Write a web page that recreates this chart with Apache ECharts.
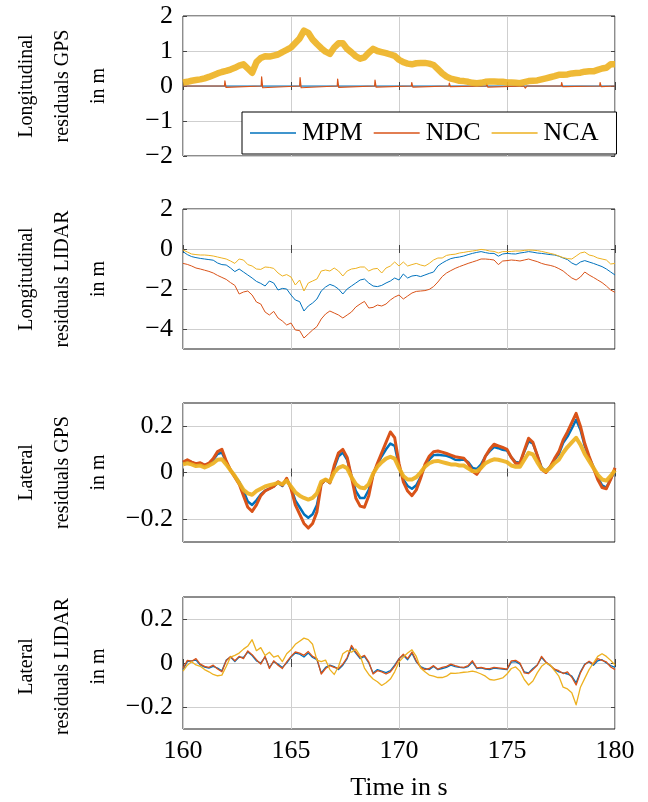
<!DOCTYPE html>
<html><head><meta charset="utf-8">
<script src="https://cdn.jsdelivr.net/npm/echarts@6/dist/echarts.min.js"></script>
<style>html,body{margin:0;padding:0;background:#fff}#c{width:648px;height:802px}</style>
</head><body><div id="c"></div><script>
// ---- time grid (s) ----
const time = [160,160.2,160.4,160.6,160.8,161,161.2,161.4,161.6,161.8,162,162.2,162.4,162.6,162.8,163,163.2,163.4,163.6,163.8,164,164.2,164.4,164.6,164.8,165,165.2,165.4,165.6,165.8,166,166.2,166.4,166.6,166.8,167,167.2,167.4,167.6,167.8,168,168.2,168.4,168.6,168.8,169,169.2,169.4,169.6,169.8,170,170.2,170.4,170.6,170.8,171,171.2,171.4,171.6,171.8,172,172.2,172.4,172.6,172.8,173,173.2,173.4,173.6,173.8,174,174.2,174.4,174.6,174.8,175,175.2,175.4,175.6,175.8,176,176.2,176.4,176.6,176.8,177,177.2,177.4,177.6,177.8,178,178.2,178.4,178.6,178.8,179,179.2,179.4,179.6,179.8,180];
const seriesNames = ['MPM','NDC','NCA'];
const xTicks = [160,165,170,175,180];

// ---- Panel 1: Longitudinal residuals GPS ----
const gpsLonMPM_t = [160,180];
const gpsLonMPM_v = [0,0];
const gpsLonNDC_t = [160,161.92,161.94,161.99,162.06,163.62,163.64,163.69,163.76,165.40,165.42,165.47,165.54,167.14,167.16,167.21,167.28,168.87,168.89,168.94,169.01,170.57,170.59,170.64,170.71,172.31,172.33,172.38,172.45,174.04,174.06,174.11,174.18,175.78,175.80,175.85,175.92,177.51,177.53,177.58,177.65,179.29,179.31,179.36,179.43,180];
const gpsLonNDC_v = [0,0,0.15,-0.04,0,0,0.26,-0.05,0,0,0.24,-0.05,0,0,0.2,-0.04,0,0,0.17,-0.03,0,0,0.1,-0.03,0,0,0.08,-0.02,0,0,0.06,-0.03,0,0,0.04,-0.06,0,0,0.1,-0.02,0,0,0.1,-0.02,0,0];
const gpsLonNCA = [0.1,0.12,0.15,0.17,0.19,0.22,0.26,0.31,0.36,0.4,0.43,0.47,0.52,0.58,0.62,0.5,0.38,0.68,0.8,0.85,0.84,0.87,0.9,0.97,1.03,1.1,1.23,1.36,1.58,1.52,1.33,1.2,1.08,0.98,0.92,1.1,1.22,1.22,1.06,0.96,0.85,0.78,0.82,0.95,1.06,1.0,0.97,0.94,0.9,0.86,0.75,0.68,0.64,0.62,0.65,0.66,0.66,0.64,0.6,0.48,0.36,0.27,0.21,0.18,0.15,0.14,0.12,0.09,0.08,0.09,0.12,0.13,0.13,0.12,0.12,0.1,0.1,0.09,0.08,0.11,0.14,0.15,0.16,0.19,0.22,0.25,0.28,0.32,0.32,0.33,0.36,0.37,0.38,0.41,0.42,0.42,0.46,0.5,0.52,0.62,0.62];

// ---- Panel 2: Longitudinal residuals LIDAR ----
const lidLonMPM = [-0.13,-0.28,-0.38,-0.43,-0.47,-0.5,-0.53,-0.56,-0.7,-0.78,-0.8,-0.95,-1.13,-1.0,-1.15,-1.3,-1.45,-1.62,-1.72,-1.85,-1.6,-1.7,-2.05,-1.97,-2.0,-2.3,-2.55,-2.63,-3.1,-2.85,-2.7,-2.5,-2.1,-1.9,-1.77,-1.85,-2.0,-2.25,-2.0,-1.85,-1.7,-1.55,-1.5,-1.7,-1.85,-1.88,-1.82,-1.7,-1.6,-1.45,-1.55,-1.25,-1.45,-1.35,-1.32,-1.38,-1.3,-1.22,-1.15,-0.85,-0.7,-0.58,-0.48,-0.43,-0.4,-0.35,-0.28,-0.22,-0.17,-0.13,-0.18,-0.22,-0.22,-0.36,-0.25,-0.22,-0.24,-0.25,-0.2,-0.17,-0.13,-0.16,-0.2,-0.22,-0.25,-0.28,-0.3,-0.36,-0.45,-0.53,-0.7,-0.8,-0.65,-0.58,-0.65,-0.72,-0.8,-0.88,-1.0,-1.15,-1.3];
const lidLonNDC = [-0.72,-0.77,-0.85,-0.95,-1.0,-1.06,-1.12,-1.2,-1.32,-1.42,-1.52,-1.68,-1.82,-2.25,-2.15,-2.1,-2.3,-2.65,-2.75,-3.15,-3.3,-3.12,-3.45,-3.6,-3.8,-3.7,-4.05,-4.08,-4.45,-4.25,-4.05,-3.88,-3.5,-3.25,-3.1,-3.2,-3.3,-3.45,-3.3,-3.15,-2.9,-2.75,-2.62,-2.95,-2.92,-2.8,-2.85,-2.75,-2.55,-2.4,-2.3,-2.5,-2.35,-2.2,-2.12,-2.1,-2.08,-2.02,-1.88,-1.65,-1.38,-1.2,-1.08,-0.97,-0.88,-0.8,-0.72,-0.65,-0.58,-0.5,-0.5,-0.52,-0.55,-0.78,-0.6,-0.58,-0.55,-0.57,-0.6,-0.55,-0.5,-0.57,-0.63,-0.72,-0.78,-0.82,-0.88,-0.98,-1.1,-1.28,-1.45,-1.55,-1.4,-1.15,-1.3,-1.42,-1.55,-1.68,-1.85,-2.05,-2.17];
const lidLonNCA = [-0.05,-0.15,-0.25,-0.28,-0.3,-0.3,-0.32,-0.35,-0.4,-0.45,-0.5,-0.6,-0.72,-0.5,-0.55,-0.78,-0.85,-1.0,-1.02,-0.9,-0.92,-0.97,-1.2,-1.35,-1.28,-1.4,-1.8,-1.55,-2.1,-1.7,-1.6,-1.5,-1.1,-1.05,-1.1,-0.95,-1.1,-1.35,-1.1,-1.0,-0.97,-0.9,-0.9,-1.1,-1.0,-0.97,-1.2,-0.95,-0.85,-0.65,-0.85,-0.65,-0.85,-0.78,-0.72,-0.8,-0.85,-0.72,-0.55,-0.45,-0.45,-0.32,-0.28,-0.26,-0.2,-0.17,-0.13,-0.1,-0.07,-0.02,-0.05,-0.1,-0.12,-0.2,-0.13,-0.13,-0.12,-0.1,-0.1,-0.07,-0.05,-0.06,-0.08,-0.12,-0.17,-0.22,-0.27,-0.35,-0.43,-0.48,-0.5,-0.35,-0.2,-0.15,-0.3,-0.35,-0.45,-0.5,-0.55,-0.75,-0.72];

// ---- Panel 3: Lateral residuals GPS ----
const gpsLatMPM = [0.042,0.052,0.045,0.035,0.04,0.032,0.038,0.055,0.08,0.086,0.045,0.01,-0.015,-0.04,-0.08,-0.125,-0.14,-0.12,-0.095,-0.078,-0.07,-0.06,-0.045,-0.058,-0.03,-0.065,-0.12,-0.15,-0.18,-0.195,-0.18,-0.14,-0.05,-0.032,-0.045,0.02,0.07,0.086,0.055,-0.015,-0.08,-0.11,-0.11,-0.075,-0.01,0.035,0.07,0.1,0.125,0.115,0.028,-0.03,-0.058,-0.07,-0.055,-0.02,0.03,0.055,0.075,0.077,0.074,0.072,0.065,0.055,0.054,0.056,0.045,0.02,0.015,0.035,0.07,0.092,0.11,0.105,0.098,0.095,0.065,0.045,0.042,0.09,0.135,0.125,0.075,0.022,0.006,0.025,0.055,0.08,0.128,0.155,0.19,0.228,0.185,0.115,0.065,0.025,-0.02,-0.055,-0.065,-0.028,0.006];
const gpsLatNDC = [0.045,0.055,0.045,0.038,0.042,0.032,0.04,0.06,0.09,0.1,0.05,0.01,-0.02,-0.05,-0.1,-0.15,-0.168,-0.14,-0.1,-0.08,-0.07,-0.06,-0.04,-0.055,-0.025,-0.07,-0.14,-0.18,-0.22,-0.24,-0.22,-0.17,-0.05,-0.03,-0.045,0.03,0.085,0.1,0.065,-0.02,-0.11,-0.145,-0.15,-0.1,-0.01,0.04,0.085,0.13,0.175,0.15,0.04,-0.04,-0.08,-0.1,-0.075,-0.025,0.035,0.07,0.09,0.093,0.088,0.082,0.075,0.068,0.065,0.062,0.04,0.005,-0.008,0.02,0.07,0.1,0.122,0.115,0.108,0.1,0.065,0.04,0.04,0.095,0.148,0.13,0.075,0.015,0.0,0.025,0.06,0.09,0.14,0.175,0.215,0.255,0.2,0.125,0.07,0.02,-0.03,-0.065,-0.07,-0.03,0.02];
const gpsLatNCA = [0.035,0.04,0.035,0.028,0.03,0.022,0.03,0.04,0.055,0.057,0.035,0.01,-0.015,-0.045,-0.075,-0.09,-0.096,-0.08,-0.07,-0.06,-0.055,-0.05,-0.045,-0.05,-0.035,-0.06,-0.085,-0.1,-0.11,-0.117,-0.11,-0.09,-0.04,-0.03,-0.04,0.0,0.02,0.028,0.018,-0.02,-0.05,-0.065,-0.068,-0.05,-0.005,0.025,0.045,0.06,0.068,0.06,0.02,-0.015,-0.03,-0.03,-0.02,0.0,0.025,0.04,0.048,0.05,0.045,0.04,0.035,0.035,0.03,0.03,0.018,0.006,0.005,0.02,0.04,0.05,0.057,0.055,0.05,0.045,0.03,0.025,0.025,0.055,0.085,0.078,0.045,0.015,0.006,0.02,0.04,0.055,0.085,0.11,0.13,0.15,0.12,0.08,0.05,0.02,-0.01,-0.03,-0.035,-0.015,0.01];

// ---- Panel 4: Lateral residuals LIDAR ----
const lidLatMPM = [-0.03,0.006,0.01,0.013,-0.009,-0.019,-0.023,-0.015,-0.023,-0.035,0.013,0.027,0.006,0.027,0.025,0.05,0.034,0.01,0.0,0.027,-0.02,0.006,-0.005,-0.02,0.0,0.027,0.045,0.04,0.027,0.045,0.025,0.015,-0.045,-0.02,-0.01,-0.016,-0.03,-0.01,0.02,0.07,0.045,0.02,0.03,0.0,-0.045,-0.03,-0.037,-0.044,-0.035,-0.01,0.02,0.035,0.015,0.045,0.005,-0.016,-0.025,-0.03,-0.016,-0.03,-0.025,-0.02,-0.01,-0.016,-0.02,-0.022,-0.016,0.004,-0.025,-0.022,-0.028,-0.03,-0.023,-0.026,-0.028,-0.03,0.004,0.006,-0.005,-0.04,-0.045,-0.025,-0.009,0.025,0.003,-0.012,-0.03,-0.04,-0.045,-0.05,-0.06,-0.09,-0.04,-0.005,0.005,-0.01,0.01,0.015,0.0,-0.012,-0.02];
const lidLatNDC = [-0.025,0.012,0.008,0.02,-0.005,-0.015,-0.02,-0.01,-0.027,-0.04,0.01,0.03,0.01,0.03,0.02,0.055,0.038,0.015,-0.005,0.03,-0.025,0.01,-0.01,-0.025,0.005,0.03,0.05,0.045,0.035,0.052,0.03,0.02,-0.05,-0.025,-0.012,-0.02,-0.025,-0.005,0.025,0.08,0.05,0.025,0.035,0.005,-0.05,-0.035,-0.04,-0.05,-0.04,-0.015,0.018,0.04,0.02,0.05,0.01,-0.02,-0.03,-0.025,-0.012,-0.028,-0.02,-0.015,-0.005,-0.012,-0.018,-0.02,-0.012,0.01,-0.022,-0.02,-0.025,-0.026,-0.02,-0.022,-0.025,-0.028,0.01,0.012,0.0,-0.045,-0.048,-0.03,-0.01,0.03,0.005,-0.01,-0.028,-0.035,-0.048,-0.04,-0.065,-0.1,-0.045,-0.008,0.008,-0.005,0.02,0.012,0.005,-0.018,-0.03];
const lidLatNCA = [-0.037,-0.01,0.006,-0.009,-0.015,-0.03,-0.04,-0.052,-0.058,-0.055,-0.016,0.027,0.035,0.045,0.063,0.077,0.106,0.056,0.07,0.034,0.049,0.027,0.034,0.006,0.042,0.06,0.085,0.099,0.113,0.106,0.085,0.013,0.006,0.013,-0.03,-0.052,-0.016,0.042,0.056,0.049,0.063,0.034,-0.023,-0.052,-0.073,-0.085,-0.102,-0.09,-0.073,-0.04,0.005,0.027,0.045,0.06,0.03,-0.023,-0.04,-0.055,-0.06,-0.066,-0.066,-0.06,-0.046,-0.047,-0.045,-0.042,-0.04,-0.037,-0.042,-0.05,-0.06,-0.075,-0.078,-0.073,-0.068,-0.05,-0.025,-0.018,-0.037,-0.075,-0.1,-0.082,-0.045,-0.015,0.0,-0.01,-0.035,-0.06,-0.11,-0.118,-0.135,-0.19,-0.11,-0.07,-0.03,0.0,0.03,0.042,0.03,0.012,-0.009];

// ---- axis ticks ----
const yTicks = [[-2,-1,0,1,2],[-4,-2,0,2],[-0.2,0,0.2],[-0.2,0,0.2]];
const yRanges = [[-2,2],[-5,2],[-0.3,0.3],[-0.3,0.3]];
const yNames = [
  ['Longitudinal','residuals GPS','in m'],
  ['Longitudinal','residuals LIDAR','in m'],
  ['Lateral','residuals GPS','in m'],
  ['Lateral','residuals LIDAR','in m']
];
const xName = 'Time in s';

const colors = {MPM:'#0072BD', NDC:'#D95319', NCA:'#EDB120'};
const FONT = '"Liberation Serif", "DejaVu Serif", serif';
const TICK_FS = 26;
const zip = (t, v) => t.map((x, i) => [x, v[i]]);
const fmt = v => (v < 0 ? '\u2212' + String(-v) : String(v));

const grids = [
  {left:183, top:16, width:432, height:140},
  {left:183, top:209, width:432, height:140},
  {left:183, top:403, width:432, height:139},
  {left:183, top:597, width:432, height:139}
].map(g => Object.assign(g, {show:true, borderColor:'#1a1a1a', borderWidth:1, containLabel:false}));

const xAxes = [], yAxes = [];
for (let i = 0; i < 4; i++) {
  xAxes.push({
    type:'value', gridIndex:i, min:160, max:180, position:'bottom',
    axisLine:{show:false},
    axisTick:{show:true, inside:true, length:4, lineStyle:{color:'#444'}, customValues:xTicks},
    axisLabel:{show:i===3, customValues:xTicks, fontFamily:FONT, fontSize:TICK_FS, color:'#000', margin:9},
    splitLine:{show:true, lineStyle:{color:'#cfcfcf', width:1}},
    name: i===3 ? xName : '', nameLocation:'middle', nameGap:46,
    nameTextStyle:{fontFamily:FONT, fontSize:TICK_FS, color:'#000'}
  });
  xAxes.push({
    type:'value', gridIndex:i, min:160, max:180, position:'top',
    axisLine:{show:false},
    axisTick:{show:true, inside:true, length:4, lineStyle:{color:'#444'}, customValues:xTicks},
    axisLabel:{show:false}, splitLine:{show:false}
  });
  yAxes.push({
    type:'value', gridIndex:i, min:yRanges[i][0], max:yRanges[i][1], position:'left',
    axisLine:{show:false},
    axisTick:{show:true, inside:true, length:4, lineStyle:{color:'#444'}, customValues:yTicks[i]},
    axisLabel:{customValues:yTicks[i], formatter:fmt, fontFamily:FONT, fontSize:TICK_FS, color:'#000', margin:10},
    splitLine:{show:true, lineStyle:{color:'#cfcfcf', width:1}}
  });
  yAxes.push({
    type:'value', gridIndex:i, min:yRanges[i][0], max:yRanges[i][1], position:'right',
    axisLine:{show:false},
    axisTick:{show:true, inside:true, length:4, lineStyle:{color:'#444'}, customValues:yTicks[i]},
    axisLabel:{show:false}, splitLine:{show:false}
  });
}

function line(name, data, panel, width, opacity) {
  return {
    type:'line', name, data, xAxisIndex:panel*2, yAxisIndex:panel*2,
    showSymbol:false, symbol:'none', animation:false, silent:true,
    lineStyle:{color:colors[name], width:width, opacity:opacity===undefined?1:opacity, join:'round'},
    itemStyle:{color:colors[name]}
  };
}

const series = [
  line('MPM', zip(gpsLonMPM_t, gpsLonMPM_v), 0, 1),
  line('NDC', zip(gpsLonNDC_t, gpsLonNDC_v), 0, 1.2),
  line('NCA', zip(time, gpsLonNCA), 0, 6.5, 0.9),
  line('MPM', zip(time, lidLonMPM), 1, 1),
  line('NDC', zip(time, lidLonNDC), 1, 1),
  line('NCA', zip(time, lidLonNCA), 1, 1),
  line('MPM', zip(time, gpsLatMPM), 2, 2.5),
  line('NDC', zip(time, gpsLatNDC), 2, 3),
  line('NCA', zip(time, gpsLatNCA), 2, 4, 0.92),
  line('MPM', zip(time, lidLatMPM), 3, 1.3),
  line('NDC', zip(time, lidLatNDC), 3, 1.3),
  line('NCA', zip(time, lidLatNCA), 3, 1.3)
];

const graphic = [];
const colX = [27, 63, 99];
grids.forEach((g, i) => {
  const cy = g.top + g.height / 2;
  yNames[i].forEach((txt, j) => {
    graphic.push({type:'text', x:colX[j], y:cy, rotation:Math.PI/2,
      style:{text:txt, font:'20px ' + FONT, fill:'#000', align:'center', verticalAlign:'middle'}});
  });
});

const chart = echarts.init(document.getElementById('c'), null, {renderer:'canvas'});
chart.setOption({
  animation:false,
  color:[colors.MPM, colors.NDC, colors.NCA],
  grid:grids, xAxis:xAxes, yAxis:yAxes, series, graphic,
  legend:{
    data:seriesNames, left:242, top:112, orient:'horizontal',
    backgroundColor:'#fff', borderColor:'#000', borderWidth:1, borderRadius:0,
    padding:[8,18,8,8], itemGap:11, itemWidth:46, itemHeight:1.5, icon:'rect',
    textStyle:{fontFamily:FONT, fontSize:26, color:'#000', padding:[0,0,0,1]},
    selectedMode:false
  }
});
</script></body></html>
